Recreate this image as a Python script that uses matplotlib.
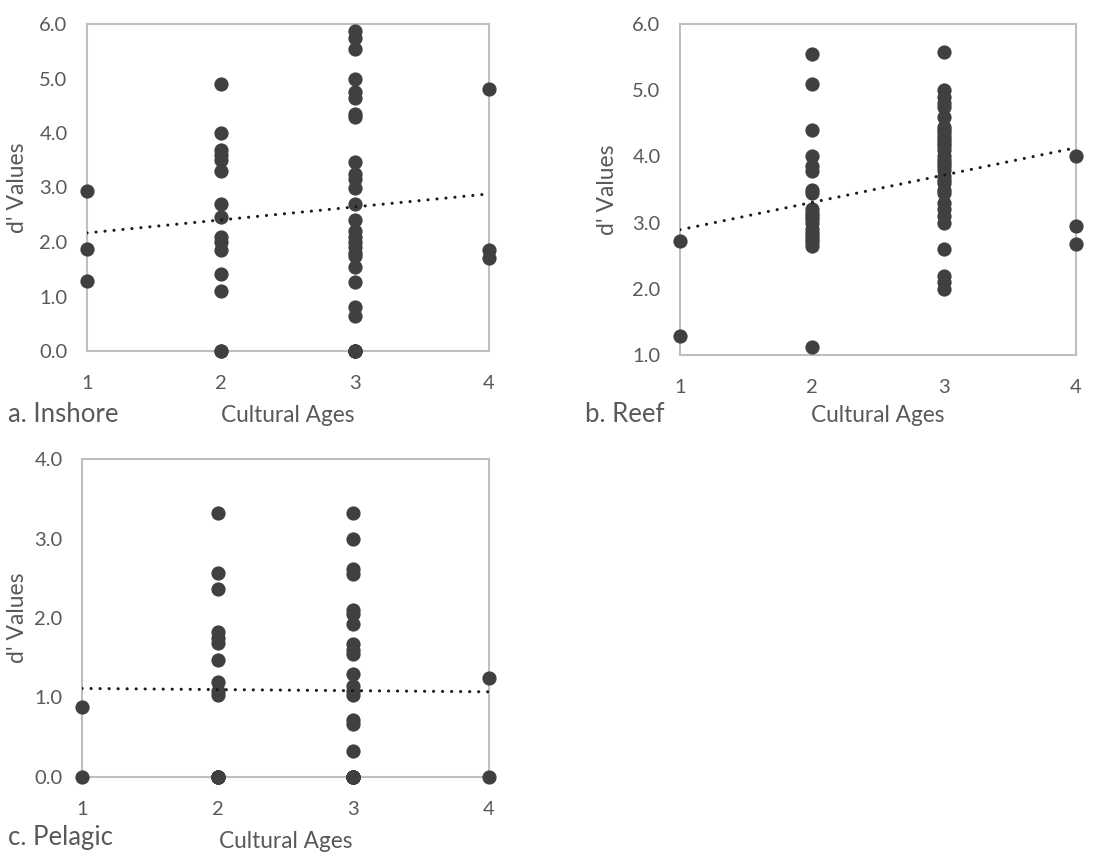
import numpy as np
import matplotlib
matplotlib.use("Agg")
import matplotlib.pyplot as plt

plt.rcParams['font.family'] = ['Lato', 'DejaVu Sans']

# d' values per cultural age
# (several points sit on top of each other, e.g. the zeros)
inshore_x = [1, 1, 1,
             2, 2, 2, 2, 2, 2, 2, 2, 2, 2, 2, 2, 2, 2, 2,
             3, 3, 3, 3, 3, 3, 3, 3, 3, 3, 3, 3, 3, 3, 3, 3, 3, 3, 3, 3, 3, 3, 3, 3,
             3, 3, 3, 3,
             4, 4, 4]
inshore_y = [2.93, 1.88, 1.28,
             4.90, 4.00, 3.68, 3.60, 3.50, 3.30, 2.70, 2.45, 2.10, 2.00, 1.85, 1.42, 1.10, 0.0, 0.0,
             5.88, 5.75, 5.55, 5.00, 4.75, 4.65, 4.35, 4.30, 3.47, 3.25, 3.15, 3.00, 2.70, 2.40,
             2.20, 2.10, 2.00, 1.90, 1.80, 1.75, 1.55, 1.27, 0.80, 0.65,
             0.0, 0.0, 0.0, 0.0,
             4.80, 1.85, 1.70]

reef_x = [1, 1,
          2, 2, 2, 2, 2, 2, 2, 2, 2, 2, 2, 2, 2, 2, 2, 2, 2, 2, 2, 2,
          3, 3, 3, 3, 3, 3, 3, 3, 3, 3, 3, 3, 3, 3, 3, 3, 3, 3, 3, 3, 3, 3, 3, 3,
          3, 3, 3, 3, 3, 3, 3, 3,
          4, 4, 4]
reef_y = [2.72, 1.28,
          5.55, 5.10, 4.40, 4.00, 3.85, 3.78, 3.50, 3.45, 3.20, 3.15, 3.10, 3.05, 3.00, 2.90,
          2.85, 2.80, 2.75, 2.70, 2.65, 1.12,
          5.57, 5.00, 4.90, 4.80, 4.75, 4.60, 4.45, 4.40, 4.35, 4.30, 4.25, 4.20, 4.15, 4.10,
          4.00, 3.95, 3.90, 3.85, 3.80, 3.70, 3.65, 3.60, 3.50, 3.45,
          3.30, 3.20, 3.10, 3.00, 2.60, 2.20, 2.10, 2.00,
          4.00, 2.95, 2.68]

pelagic_x = [1, 1,
             2, 2, 2, 2, 2, 2, 2, 2, 2, 2, 2, 2, 2, 2, 2,
             3, 3, 3, 3, 3, 3, 3, 3, 3, 3, 3, 3, 3, 3, 3, 3, 3, 3, 3, 3, 3, 3, 3, 3, 3, 3,
             4, 4]
pelagic_y = [0.88, 0.0,
             3.32, 2.57, 2.37, 1.83, 1.75, 1.68, 1.47, 1.20, 1.08, 1.03, 0.0, 0.0, 0.0, 0.0, 0.0,
             3.32, 3.00, 2.62, 2.55, 2.10, 2.05, 1.93, 1.67, 1.60, 1.55, 1.30, 1.15, 1.08, 1.03,
             0.72, 0.67, 0.33, 0.0, 0.0, 0.0, 0.0, 0.0, 0.0, 0.0, 0.0, 0.0,
             1.25, 0.0]

W, H = 1107, 852
fig = plt.figure(figsize=(W / 100, H / 100), dpi=100)

dot = '#404040'
frame = '#bfbfbf'
txt = '#595959'


def panel(box, xs, ys, ymin, ymax, yticks, name, name_x, label_y, ylab_x, title_y):
    left, top, right, bottom = box
    ax = fig.add_axes([left / W, 1 - bottom / H, (right - left) / W, (bottom - top) / H])
    ax.scatter(xs, ys, s=105, color=dot, zorder=3, clip_on=False, linewidths=0)
    # linear trendline
    k, b = np.polyfit(xs, ys, 1)
    tx = np.array([1, 4])
    ax.plot(tx, k * tx + b, color='#1a1a1a', lw=2.2, linestyle=(0, (0.05, 2.9)),
            dash_capstyle='round', zorder=4)
    ax.set_xlim(1, 4)
    ax.set_ylim(ymin, ymax)
    ax.set_xticks([1, 2, 3, 4])
    ax.set_yticks(yticks)
    ax.set_yticklabels(['%.1f' % v for v in yticks])
    ax.tick_params(length=0, labelsize=14.5, labelcolor=txt)
    ax.tick_params(axis='x', pad=17)
    ax.tick_params(axis='y', pad=14)
    for s in ax.spines.values():
        s.set_color(frame)
        s.set_linewidth(1.5)
    ax.set_ylabel("d' Values", fontsize=16.5, color=txt)
    # label anchor is its right edge, so shift by roughly half the text height
    ax.yaxis.set_label_coords((ylab_x + 10 - left) / (right - left), 0.5)
    cx = (left + right) / 2
    fig.text(cx / W, 1 - label_y / H, 'Cultural Ages', fontsize=16.3, color=txt,
             ha='center', va='center')
    fig.text(name_x / W, 1 - title_y / H, name, fontsize=18.5, color=txt,
             ha='left', va='center')
    return ax


panel((87, 24, 489, 351), inshore_x, inshore_y, 0, 6, [0, 1, 2, 3, 4, 5, 6],
      'a. Inshore', 8, 415, 18, 414)
panel((680, 24, 1076, 355), reef_x, reef_y, 1, 6, [1, 2, 3, 4, 5, 6],
      'b. Reef', 585, 415, 608, 414)
panel((82, 459, 489, 777), pelagic_x, pelagic_y, 0, 4, [0, 1, 2, 3, 4],
      'c. Pelagic', 8, 842, 18, 837)

fig.savefig('out.png', dpi=100, facecolor='white')
